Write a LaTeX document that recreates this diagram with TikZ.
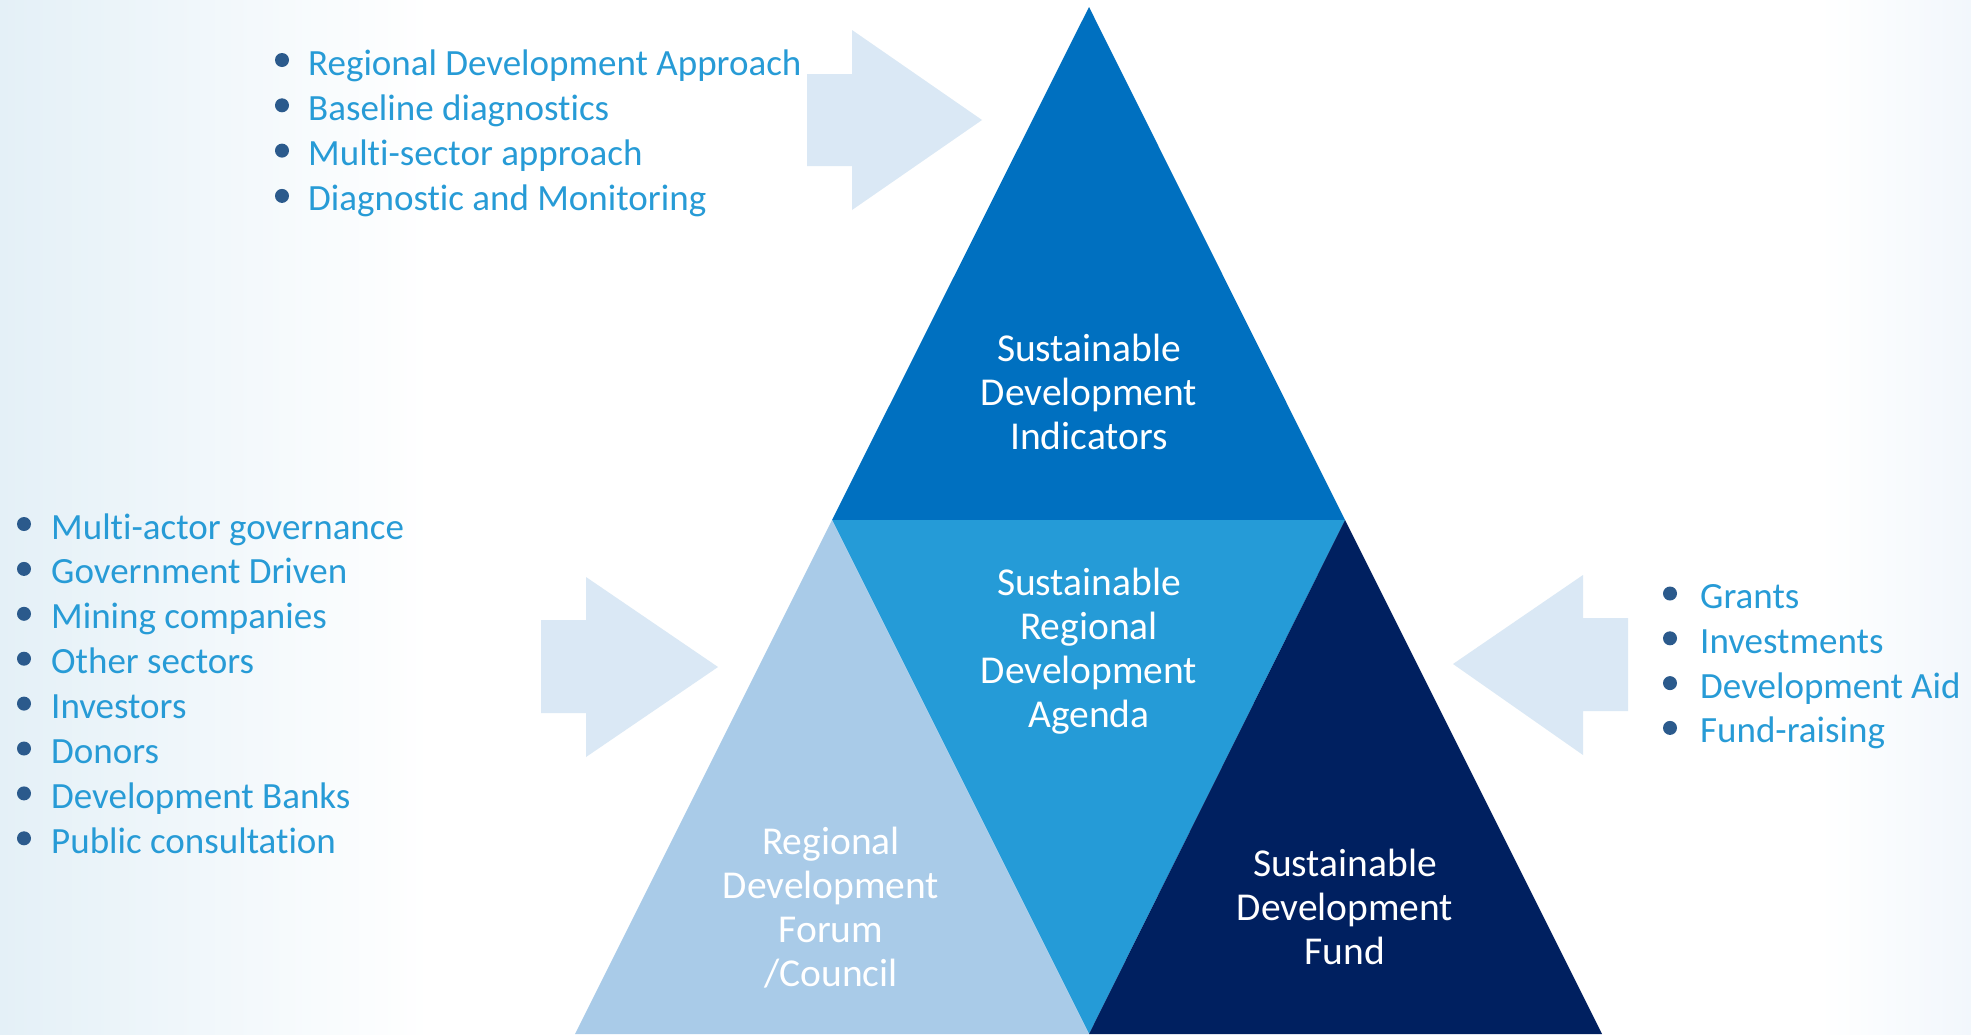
\documentclass[tikz,border=0pt]{standalone}
\usepackage{fontspec}
\setmainfont{Carlito}[Ligatures={NoCommon}]
\definecolor{topblue}{HTML}{0070C0}
\definecolor{midblue}{HTML}{259BD7}
\definecolor{lightblue}{HTML}{A9CBE8}
\definecolor{navy}{HTML}{002060}
\definecolor{arrowfill}{HTML}{DAE8F5}
\definecolor{listtext}{HTML}{279BD6}
\definecolor{bulletc}{HTML}{2B5A8C}
\definecolor{bgleft}{HTML}{E4F0F7}
\definecolor{bgright}{HTML}{F2F7FC}
\begin{document}
\begin{tikzpicture}[x=1pt,y=-1pt,
  listitem/.style={anchor=base west, text=listtext, font=\fontsize{37}{44}\selectfont, inner sep=0pt},
  bulletdot/.style={circle, fill=bulletc, minimum size=14pt, inner sep=0pt},
  tlabel/.style={text=white, align=center, font=\fontsize{39.5}{44}\selectfont, inner sep=0pt},
  bigarrow/.style={fill=arrowfill, draw=none}]

\useasboundingbox (0,0) rectangle (1971,1034);
\fill[white] (0,0) rectangle (1971,1034);
\shade[left color=bgleft, right color=white] (0,0) rectangle (430,1034);
\shade[left color=white, right color=bgright] (1820,0) rectangle (1971,1034);

% triangle corners
\coordinate (apex) at (1089,7);
\coordinate (ml) at (832,520);
\coordinate (mr) at (1345,520);
\coordinate (bl) at (575,1034);
\coordinate (bm) at (1089,1034);
\coordinate (br) at (1602,1034);

\fill[topblue] (apex) -- (mr) -- (ml) -- cycle;
\fill[midblue] (ml) -- (mr) -- (bm) -- cycle;
\fill[lightblue] (ml) -- (bm) -- (bl) -- cycle;
\fill[navy] (mr) -- (br) -- (bm) -- cycle;

% block arrows
\fill[bigarrow] (807,74) -- (852,74) -- (852,30) -- (982,120) -- (852,210) -- (852,166) -- (807,166) -- cycle;
\fill[bigarrow] (541,620) -- (586,620) -- (586,577) -- (718,667) -- (586,757) -- (586,713) -- (541,713) -- cycle;
\fill[bigarrow] (1628,618) -- (1583,618) -- (1583,575) -- (1453,664) -- (1583,755) -- (1583,711) -- (1628,711) -- cycle;

% triangle labels
\node[tlabel] (ind) at (1089,392) {Sustainable\\Development\\Indicators};
\node[tlabel] (agenda) at (1089,651.5) {Sustainable\\Regional\\Development\\Agenda};
\node[tlabel] (forum) at (831,907.5) {Regional\\Development\\Forum\\/Council};
\node[tlabel] (fund) at (1345,907) {Sustainable\\Development\\Fund};

% top list
\foreach \txt [count=\i from 0] in {Regional Development Approach, Baseline diagnostics, Multi-sector approach, Diagnostic and Monitoring} {
  \node[bulletdot] (tb\i) at (282,{60+45.3*\i}) {};
  \node[listitem] (tl\i) at (308,{75+45.3*\i}) {\txt};
}
% left list
\foreach \txt [count=\i from 0] in {Multi-actor governance, Government Driven, Mining companies, Other sectors, Investors, Donors, Development Banks, Public consultation} {
  \node[bulletdot] (lb\i) at (24,{524+44.9*\i}) {};
  \node[listitem] (ll\i) at (51,{539+44.9*\i}) {\txt};
}
% right list
\foreach \txt [count=\i from 0] in {Grants, Investments, Development Aid, Fund-raising} {
  \node[bulletdot] (rb\i) at (1670,{593.5+44.8*\i}) {};
  \node[listitem] (rl\i) at (1700,{608.5+44.8*\i}) {\txt};
}
\end{tikzpicture}
\end{document}
